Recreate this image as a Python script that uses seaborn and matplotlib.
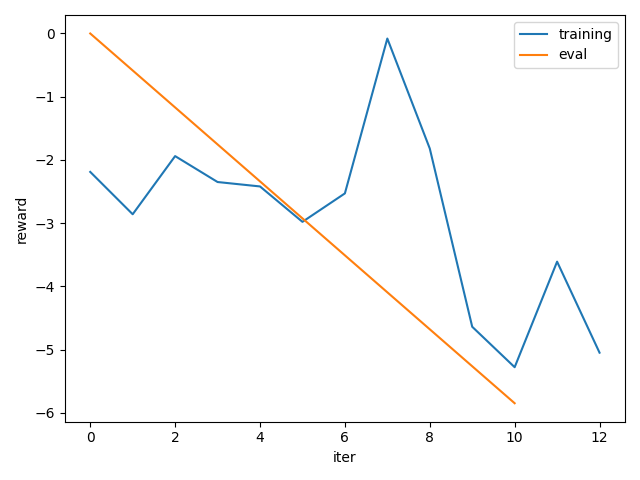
import matplotlib
matplotlib.use("Agg")
import matplotlib.pyplot as plt
import seaborn as sns
import pandas as pd

train_iter = [0, 1, 2, 3, 4, 5, 6, 7, 8, 9, 10, 11, 12]
train_reward = [-2.19, -2.86, -1.94, -2.35, -2.42, -2.98, -2.53, -0.08, -1.82, -4.64, -5.28, -3.61, -5.05]
eval_iter = [0, 1, 2, 3, 4, 5, 6, 7, 8, 9, 10]
eval_reward = [0.0, -0.585, -1.17, -1.755, -2.34, -2.925, -3.51, -4.095, -4.68, -5.265, -5.85]

df_train = pd.DataFrame({"iter": train_iter, "reward": train_reward})
df_eval = pd.DataFrame({"iter": eval_iter, "reward": eval_reward})

fig, ax = plt.subplots(figsize=(6.4, 4.8), dpi=100)
sns.lineplot(data=df_train, x="iter", y="reward", ax=ax, label="training", color="#1f77b4")
sns.lineplot(data=df_eval, x="iter", y="reward", ax=ax, label="eval", color="#ff7f0e")
ax.legend(loc="upper right")
fig.tight_layout()
fig.savefig("out.png", dpi=100)
